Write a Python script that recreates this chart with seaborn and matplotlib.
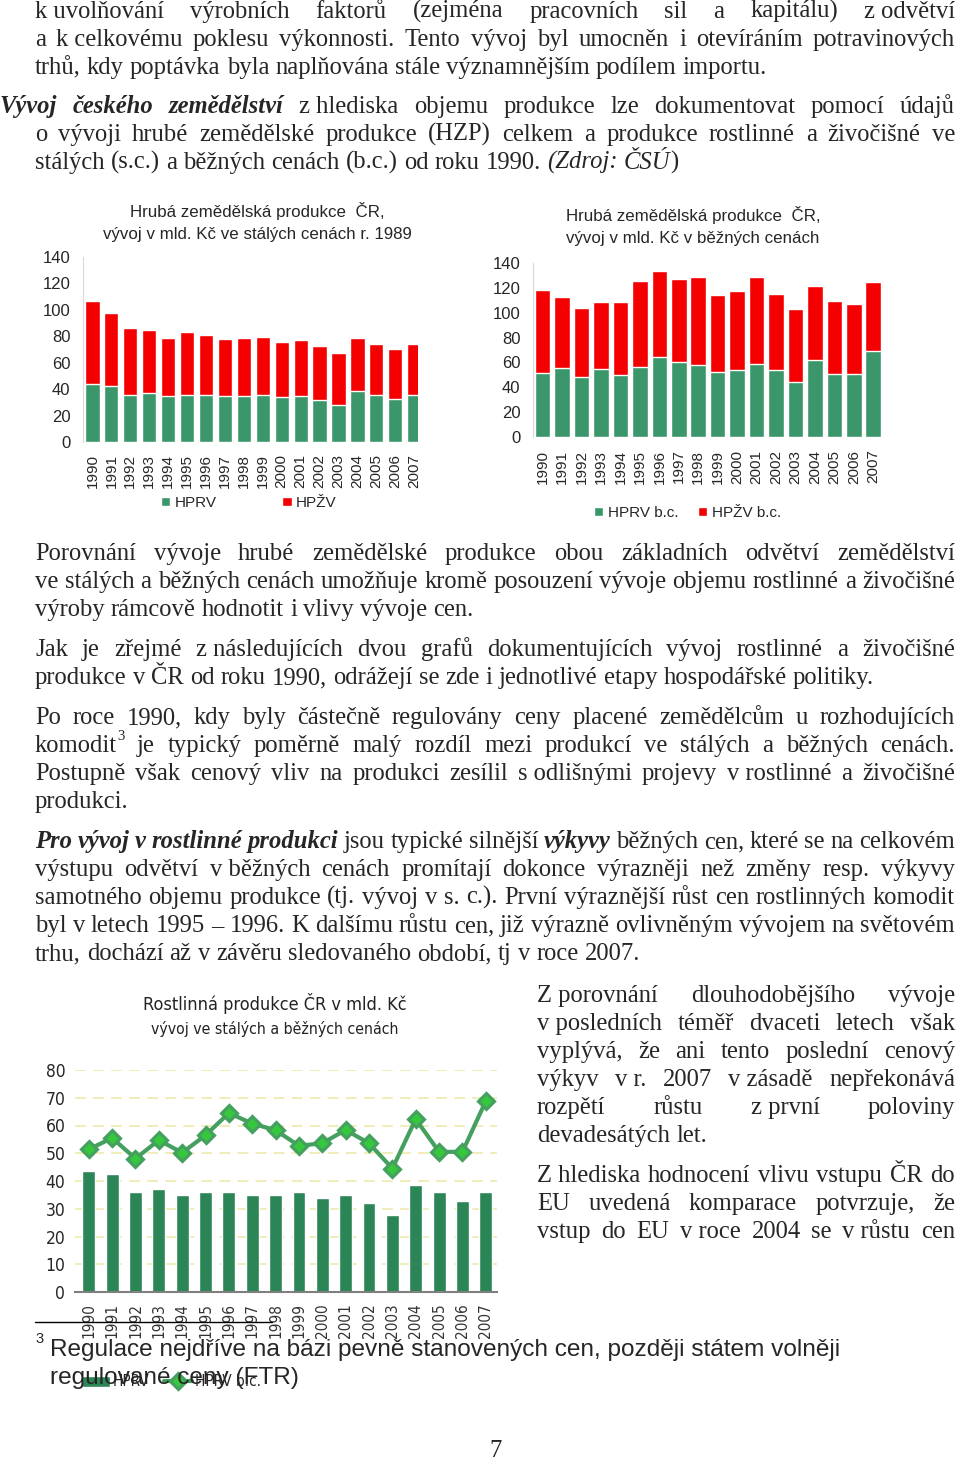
import matplotlib
matplotlib.use('Agg')
import numpy as np
import matplotlib.pyplot as plt
from matplotlib import font_manager
import seaborn as sns

W, H = 960, 1460

# ---- data (mld. Kč) ----
years = [str(y) for y in range(1990, 2008)]
# stálé ceny r. 1989
hprv_sc = [43.7, 42.7, 35.9, 37.0, 34.8, 35.9, 35.9, 34.8, 34.8, 35.9, 33.8, 34.8, 32.0, 27.8, 38.7, 35.9, 32.9, 35.9]
hpzv_sc = [63.0, 55.3, 50.0, 47.4, 44.2, 47.2, 45.2, 43.2, 44.2, 43.2, 42.2, 42.2, 40.9, 39.2, 39.7, 38.2, 37.2, 38.2]
# běžné ceny
hprv_bc = [51.4, 55.5, 48.1, 54.7, 50.2, 56.5, 64.5, 60.7, 58.3, 52.7, 53.6, 58.4, 53.6, 44.5, 62.3, 50.5, 50.5, 68.8]
hpzv_bc = [66.5, 57.1, 56.0, 54.2, 58.8, 68.9, 68.9, 66.5, 70.6, 61.9, 64.1, 70.6, 61.7, 58.5, 59.2, 58.8, 56.4, 56.0]

GREEN = '#3b976b'
RED = '#f50000'
DARKGREEN = '#2c8557'
LINEGREEN = '#45a060'
MARKER = '#36c83c'

# ---- text of the page ----
NB = '\u00a0'
p1 = ['k' + NB + 'uvolňování výrobních faktorů (zejména pracovních sil a kapitálu) z' + NB + 'odvětví',
      'a k' + NB + 'celkovému poklesu výkonnosti. Tento vývoj byl umocněn i otevíráním potravinových',
      'trhů, kdy poptávka byla naplňována stále významnějším podílem importu.']
p2 = ['*Vývoj českého zemědělství* z' + NB + 'hlediska objemu produkce lze dokumentovat pomocí údajů',
      'o vývoji hrubé zemědělské produkce (HZP) celkem a produkce rostlinné a živočišné ve',
      'stálých (s.c.) a běžných cenách (b.c.) od roku 1990. _(Zdroj: ČSÚ_)']
p3 = ['Porovnání vývoje hrubé zemědělské produkce obou základních odvětví zemědělství',
      've stálých a běžných cenách umožňuje kromě posouzení vývoje objemu rostlinné a živočišné',
      'výroby rámcově hodnotit i vlivy vývoje cen.']
p4 = ['Jak je zřejmé z' + NB + 'následujících dvou grafů dokumentujících vývoj rostlinné a živočišné',
      'produkce v ČR od roku 1990, odrážejí se zde i jednotlivé etapy hospodářské politiky.']
p5 = ['Po roce 1990, kdy byly částečně regulovány ceny placené zemědělcům u rozhodujících',
      'komodit^3 je typický poměrně malý rozdíl mezi produkcí ve stálých a běžných cenách.',
      'Postupně však cenový vliv na produkci zesílil s' + NB + 'odlišnými projevy v' + NB + 'rostlinné a živočišné',
      'produkci.']
p6 = ['*Pro vývoj v rostlinné produkci* jsou typické silnější *výkyvy* běžných cen, které se na celkovém',
      'výstupu odvětví v' + NB + 'běžných cenách promítají dokonce výrazněji než změny resp. výkyvy',
      'samotného objemu produkce (tj. vývoj v s. c.). První výraznější růst cen rostlinných komodit',
      'byl v letech 1995 – 1996. K dalšímu růstu cen, již výrazně ovlivněným vývojem na světovém',
      'trhu, dochází až v závěru sledovaného období, tj v roce 2007.']
r1 = ['Z' + NB + 'porovnání dlouhodobějšího vývoje',
      'v' + NB + 'posledních téměř dvaceti letech však',
      'vyplývá, že ani tento poslední cenový',
      'výkyv v' + NB + 'r. 2007 v' + NB + 'zásadě nepřekonává',
      'rozpětí růstu z' + NB + 'první poloviny',
      'devadesátých let.']
r2 = ['Z' + NB + 'hlediska hodnocení vlivu vstupu ČR do',
      'EU uvedená komparace potvrzuje, že',
      'vstup do EU v' + NB + 'roce 2004 se v' + NB + 'růstu cen']
footnote = ['Regulace nejdříve na bázi pevně stanovených cen, později státem volněji',
            'regulované ceny (FTR)']

sns.set_style('white')
plt.rcParams['font.family'] = ['Liberation Sans', 'DejaVu Sans']

fig = plt.figure(figsize=(W / 100, H / 100), dpi=100, facecolor='white')
renderer = fig.canvas.get_renderer()
BODY = 'Liberation Serif'
LEAD = 28

# condensed font for the third chart
entries = [(f.name, f.stretch) for f in font_manager.fontManager.ttflist]
if any(n == 'Liberation Sans Narrow' for n, s in entries):
    NARROW = dict(family='Liberation Sans Narrow')
elif ('DejaVu Sans', 'condensed') in entries:
    NARROW = dict(family='DejaVu Sans', stretch='condensed')
else:
    NARROW = dict(family='Liberation Sans')


def fx(x):
    return x / W


def fy(y):
    return 1 - y / H


def text_width(s, **kw):
    t = fig.text(0, 0, s, **kw)
    w = t.get_window_extent(renderer).width
    t.remove()
    return w


# font size so that a full natural line fills the column
BODY_SIZE = 10 * 920 / text_width(p3[1], fontsize=10, family=BODY)
SPACE = text_width('x x', fontsize=BODY_SIZE, family=BODY) - text_width('xx', fontsize=BODY_SIZE, family=BODY)

STYLES = {'n': {}, 'i': {'style': 'italic'}, 'bi': {'style': 'italic', 'weight': 'bold'}, 's': {}}


def parse(line):
    words, word = [], []
    state = {'buf': '', 'style': 'n', 'sup': False}

    def flush():
        if state['buf']:
            word.append((state['buf'], state['style']))
            state['buf'] = ''

    for ch in line:
        if ch in '*_':
            flush()
            new = 'bi' if ch == '*' else 'i'
            state['style'] = 'n' if state['style'] == new else new
        elif ch == '^':
            flush()
            state['sup'] = True
        elif ch == ' ':
            flush()
            if word:
                words.append(list(word))
                word.clear()
        elif state['sup']:
            flush()
            word.append((ch, 's'))
            state['sup'] = False
        else:
            state['buf'] += ch
    flush()
    if word:
        words.append(list(word))
    return words


def draw_line(line, left, right, y, justify):
    words = parse(line)
    placed = []
    for word in words:
        items = []
        ww = 0
        for txt, st in word:
            fs = BODY_SIZE * 0.6 if st == 's' else BODY_SIZE
            dy = BODY_SIZE * 0.5 * 100 / 72 if st == 's' else 0
            t = fig.text(0, fy(y - dy), txt, fontsize=fs, family=BODY,
                         va='baseline', ha='left', **STYLES[st])
            w = t.get_window_extent(renderer).width
            items.append((t, ww))
            ww += w
        placed.append((items, ww))
    total = sum(w for _, w in placed)
    if justify and len(placed) > 1:
        gap = (right - left - total) / (len(placed) - 1)
    else:
        gap = SPACE
    x = left
    for items, ww in placed:
        for t, off in items:
            t.set_x(fx(x + off))
        x += ww + gap


def draw_block(lines, x0, x1, y0, first_x0=None, justify_last=False):
    for i, line in enumerate(lines):
        left = first_x0 if (i == 0 and first_x0 is not None) else x0
        last = i == len(lines) - 1
        draw_line(line, left, x1, y0 + i * LEAD, (not last) or justify_last)


draw_block(p1, 35, 955, 18)
draw_block(p2, 35, 955, 113, first_x0=0)
draw_block(p3, 35, 955, 560)
draw_block(p4, 35, 955, 656)
draw_block(p5, 35, 955, 724)
draw_block(p6, 35, 955, 848)
draw_block(r1, 537, 955, 1002)
draw_block(r2, 537, 955, 1182, justify_last=True)


def px_axes(x0, y0, x1, y1):
    return fig.add_axes([fx(x0), fy(y1), (x1 - x0) / W, (y1 - y0) / H])


def stacked(ax, low, high, width, xlim, title, title_x, title_y, labels, leg_xy, colspace):
    tot = np.add(low, high)
    sns.barplot(x=years, y=tot, color=RED, saturation=1, width=width, ax=ax)
    sns.barplot(x=years, y=low, color=GREEN, saturation=1, width=width, ax=ax)
    ax.set_ylim(0, 140)
    ax.set_xlim(*xlim)
    ax.set_yticks(range(0, 141, 20))
    ax.set_xlabel('')
    ax.set_ylabel('')
    for s in ['top', 'right', 'bottom']:
        ax.spines[s].set_visible(False)
    ax.spines['left'].set_color('#d9d9d9')
    ax.tick_params(axis='y', length=0, labelsize=12, pad=9)
    ax.tick_params(axis='x', length=0, labelsize=11, pad=9, rotation=90)
    for i, line in enumerate(title):
        fig.text(fx(title_x), fy(title_y + i * 24), line, ha='center', va='center', fontsize=12.2)
    ax.legend([ax.containers[1], ax.containers[0]], labels, loc='center left',
              bbox_to_anchor=(fx(leg_xy[0]), fy(leg_xy[1])), bbox_transform=fig.transFigure,
              ncol=2, frameon=False, fontsize=11, handlelength=0.6, handleheight=0.6,
              handletextpad=0.3, columnspacing=colspace, borderpad=0, borderaxespad=0)


ax1 = px_axes(83, 257, 418, 442)
stacked(ax1, hprv_sc, hpzv_sc, 0.75, (-0.5, 17.2),
        ['Hrubá zemědělská produkce  ČR,', 'vývoj v mld. Kč ve stálých cenách r. 1989'],
        257, 211, ['HPRV', 'HPŽV'], (161, 503), 4.3)

ax2 = px_axes(533, 263, 882, 437)
stacked(ax2, hprv_bc, hpzv_bc, 0.8, (-0.5, 17.45),
        ['Hrubá zemědělská produkce  ČR,', 'vývoj v mld. Kč v běžných cenách'],
        693, 215, ['HPRV b.c.', 'HPŽV b.c.'], (594, 513), 1.3)

# ---- third chart ----
ax3 = px_axes(75, 1070, 497, 1292)
sns.barplot(x=years, y=hprv_sc, color=DARKGREEN, saturation=1, width=0.55, ax=ax3)
sns.pointplot(x=years, y=hprv_bc, color=LINEGREEN, markers='D', errorbar=None,
              markersize=8, linewidth=3, markerfacecolor=MARKER, markeredgecolor=LINEGREEN, ax=ax3)
ax3.set_ylim(0, 80)
ax3.set_xlim(-0.59, 17.48)
ax3.set_yticks(range(0, 81, 10))
ax3.set_xlabel('')
ax3.set_ylabel('')
ax3.set_axisbelow(True)
ax3.yaxis.grid(True, color='#efecb4', linestyle=(0, (6, 4)), linewidth=1.3)
ax3.xaxis.grid(False)
for s in ['top', 'right', 'left']:
    ax3.spines[s].set_visible(False)
ax3.spines['bottom'].set_color('#7f7f7f')
ax3.spines['bottom'].set_linewidth(1.5)
ax3.tick_params(axis='y', length=0, labelsize=12.5, pad=7)
ax3.tick_params(axis='x', length=0, labelsize=11, pad=8, rotation=90, labelcolor='#333333')
for lab in ax3.get_xticklabels() + ax3.get_yticklabels():
    lab.set_fontproperties(font_manager.FontProperties(size=lab.get_fontsize(), **NARROW))
fig.text(fx(275), fy(1004), 'Rostlinná produkce ČR v mld. Kč', ha='center', va='center',
         fontsize=13, color='#222222', **NARROW)
fig.text(fx(275), fy(1029), 'vývoj ve stálých a běžných cenách', ha='center', va='center',
         fontsize=11.3, color='#222222', **NARROW)
ax3.legend([ax3.containers[0], ax3.lines[-1]], ['HPRV', 'HPRV b.c.'], loc='center left',
           bbox_to_anchor=(fx(82), fy(1382)), bbox_transform=fig.transFigure, ncol=2,
           frameon=False, handlelength=1.8, handletextpad=0.2, columnspacing=1.0,
           borderpad=0, borderaxespad=0, prop=font_manager.FontProperties(size=11, **NARROW))

# ---- footnote ----
fig.add_artist(plt.Line2D([fx(35), fx(272)], [fy(1322), fy(1322)], color='black', linewidth=1))
FN_SIZE = 10 * 793 / text_width(footnote[0], fontsize=10, family='Liberation Sans')
fig.text(fx(35), fy(1343), '3', fontsize=FN_SIZE * 0.6, family='Liberation Sans', va='baseline')
for i, line in enumerate(footnote):
    fig.text(fx(50), fy(1356 + i * 28), line, fontsize=FN_SIZE, family='Liberation Sans', va='baseline')

fig.text(fx(496), fy(1457), '7', fontsize=BODY_SIZE, family=BODY, ha='center', va='baseline')

fig.savefig('out.png', dpi=100, facecolor='white')
